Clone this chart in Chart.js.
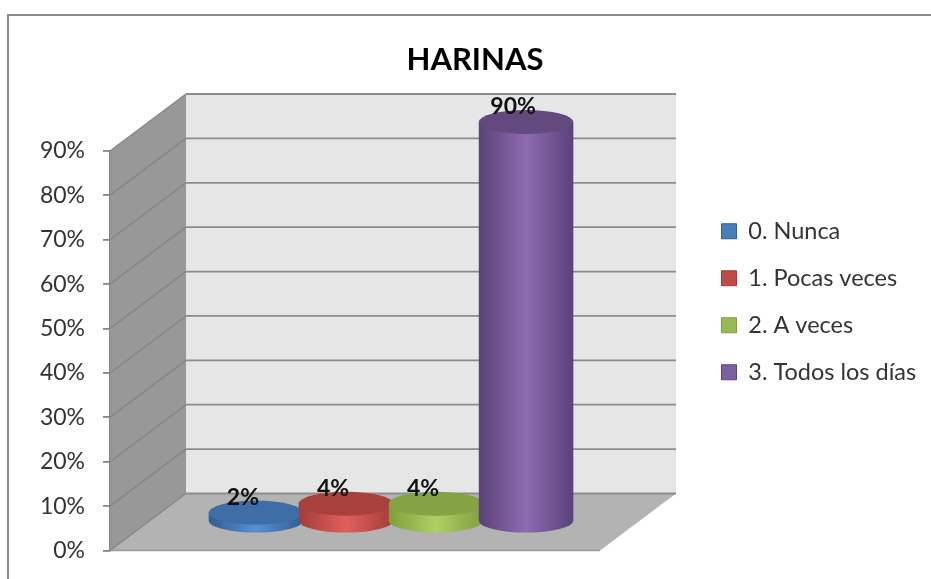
<!DOCTYPE html>
<html><head><meta charset="utf-8">
<style>html,body{margin:0;padding:0;background:#fff}canvas{display:block}</style>
<script src="https://cdn.jsdelivr.net/npm/chart.js@4/dist/chart.umd.min.js"></script>
</head><body><canvas id="c" width="931" height="579"></canvas>
<script>
const chartTitle = "HARINAS";
const categories = ["HARINAS"];
const seriesNames = ["0. Nunca", "1. Pocas veces", "2. A veces", "3. Todos los días"];
const seriesValues = [0.02, 0.04, 0.04, 0.90];
const seriesColors = ["#4a7ebb", "#be4b48", "#98b954", "#7d60a0"];
const sideStops = [
  ["#2f5e96", "#5b90d0", "#2f5e96"],
  ["#a33c39", "#e0605c", "#a33c39"],
  ["#7f9f3f", "#aed063", "#7f9f3f"],
  ["#59427a", "#8f6bb0", "#59427a"]];
const topColors = ["#3f6ea6", "#a8403d", "#84a444", "#64497f"];
const depthX = 76, depthY = -57, barDX = 36, barDY = -29, ry = 12;

const scene = {
  id: "scene",
  afterLayout(chart) {
    const t = chart.titleBlock; t.left = 19; t.right = 931;
    const l = chart.legend; l.left = 698; l.right = 931; l.top = 196; l.bottom = 570;
  },
  beforeDatasetsDraw(chart) {
    const c = chart.ctx, a = chart.chartArea, y = chart.scales.y;
    const L = a.left, R = a.right, T = a.top, B = a.bottom;
    c.save();
    // side wall
    c.fillStyle = "#989898";
    c.beginPath(); c.moveTo(L, T); c.lineTo(L + depthX, T + depthY); c.lineTo(L + depthX, B + depthY); c.lineTo(L, B); c.closePath(); c.fill();
    // back wall
    c.fillStyle = "#e6e6e6";
    c.fillRect(L + depthX, T + depthY, R - L, B - T);
    // floor
    c.fillStyle = "#b3b3b3";
    c.beginPath(); c.moveTo(L, B); c.lineTo(R, B); c.lineTo(R + depthX, B + depthY); c.lineTo(L + depthX, B + depthY); c.closePath(); c.fill();
    // gridlines from the axis ticks
    y.ticks.forEach(tk => {
      const p = y.getPixelForValue(tk.value);
      c.strokeStyle = "#858585"; c.lineWidth = 1.4;
      c.beginPath(); c.moveTo(L, p); c.lineTo(L + depthX, p + depthY); c.stroke();
      c.strokeStyle = "#8c8c8c"; c.lineWidth = 1.8;
      c.beginPath(); c.moveTo(L + depthX, p + depthY); c.lineTo(R + depthX, p + depthY); c.stroke();
    });
    // front edge of the floor
    c.strokeStyle = "#9a9a9a"; c.lineWidth = 1.6;
    c.beginPath(); c.moveTo(L, B); c.lineTo(R, B); c.stroke();
    c.restore();
  },
  afterDatasetsDraw(chart) {
    const c = chart.ctx;
    c.save();
    chart.data.datasets.forEach((ds, i) => {
      const el = chart.getDatasetMeta(i).data[0];
      const cx = el.x + barDX, top = el.y + barDY, base = el.base + barDY, rx = el.width / 2;
      const g = c.createLinearGradient(cx - rx, 0, cx + rx, 0);
      g.addColorStop(0, sideStops[i][0]); g.addColorStop(0.5, sideStops[i][1]); g.addColorStop(1, sideStops[i][2]);
      c.fillStyle = g;
      c.beginPath();
      c.moveTo(cx - rx, top); c.lineTo(cx - rx, base);
      c.ellipse(cx, base, rx, ry, 0, Math.PI, 0, true);
      c.lineTo(cx + rx, top); c.closePath(); c.fill();
      c.fillStyle = topColors[i];
      c.beginPath(); c.ellipse(cx, top, rx, ry, 0, 0, Math.PI * 2); c.fill();
    });
    chart.data.datasets.forEach((ds, i) => {
      const el = chart.getDatasetMeta(i).data[0];
      c.font = "bold 23px Lato"; c.fillStyle = "#111"; c.textAlign = "center"; c.textBaseline = "middle";
      c.fillText(Math.round(ds.data[0] * 100) + "%", el.x + barDX - 13, el.y + barDY - 15);
    });
    c.restore();
  },
  beforeDraw(chart) {
    const c = chart.ctx;
    c.save(); c.strokeStyle = "#8a8a8a"; c.lineWidth = 2;
    c.beginPath(); c.moveTo(8, 579); c.lineTo(8, 15); c.lineTo(931, 15); c.stroke();
    c.restore();
  }
};

new Chart(document.getElementById("c"), {
  type: "bar",
  data: {
    labels: categories,
    datasets: seriesNames.map((n, i) => ({
      label: n, data: [seriesValues[i]],
      backgroundColor: "rgba(0,0,0,0)", borderWidth: 0,
      categoryPercentage: 0.735, barPercentage: 1.05
    }))
  },
  options: {
    responsive: false, animation: false,
    layout: { padding: { left: 0, right: 331, top: 0, bottom: 28.5 } },
    plugins: {
      title: { display: true, text: chartTitle, color: "#000",
        font: { family: "Lato", size: 31, weight: "bold", lineHeight: 1.2 },
        padding: { top: 41.4, bottom: 72.4 } },
      legend: {
        position: "chartArea", align: "start",
        labels: {
          color: "#333", font: { family: "Lato", size: 23.5 },
          boxWidth: 15, boxHeight: 15, padding: 23.5,
          generateLabels: () => seriesNames.map((n, i) => ({
            text: n, fillStyle: seriesColors[i], strokeStyle: sideStops[i][0],
            lineWidth: 1, hidden: false, datasetIndex: i, fontColor: "#333"
          }))
        }
      },
      tooltip: { enabled: false }
    },
    scales: {
      x: { display: false, stacked: false },
      y: {
        min: 0, max: 0.9,
        afterFit(s) { s.width = 110; s.paddingTop = 0; s.paddingBottom = 0; },
        ticks: { stepSize: 0.1, padding: 18, color: "#333",
          font: { family: "Lato", size: 23 },
          callback: v => Math.round(v * 100) + "%" },
        grid: { drawOnChartArea: false, drawTicks: true, tickLength: 7, color: "#858585", lineWidth: 1.8 },
        border: { display: true, color: "#858585", width: 1.6 }
      }
    }
  },
  plugins: [scene]
});
</script></body></html>
